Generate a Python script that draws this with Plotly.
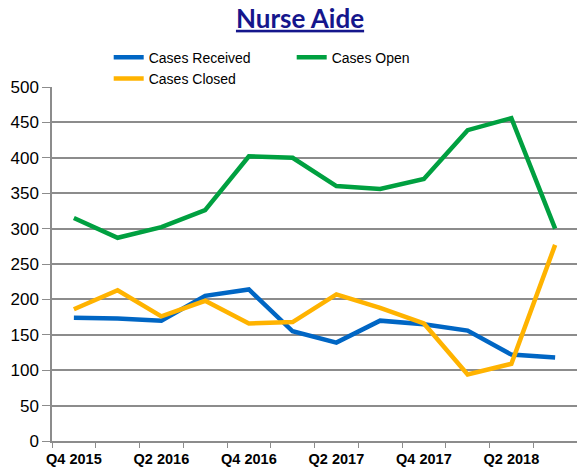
import plotly.graph_objects as go

quarters = ["Q4 2015", "Q1 2016", "Q2 2016", "Q3 2016", "Q4 2016", "Q1 2017",
            "Q2 2017", "Q3 2017", "Q4 2017", "Q1 2018", "Q2 2018", "Q3 2018"]
tick_labels = ["Q4 2015", "", "Q2 2016", "", "Q4 2016", "", "Q2 2017", "",
               "Q4 2017", "", "Q2 2018", ""]
cases_received = [174, 173, 170, 205, 214, 155, 139, 170, 165, 156, 122, 118]
cases_open = [315, 287, 302, 326, 402, 400, 360, 356, 370, 439, 456, 300]
cases_closed = [186, 213, 176, 198, 166, 168, 207, 188, 166, 94, 109, 277]

fig = go.Figure()
fig.add_trace(go.Scatter(x=quarters, y=cases_received, mode="lines", name="Cases Received",
                         line=dict(color="#0066C4", width=4.5)))
fig.add_trace(go.Scatter(x=quarters, y=cases_open, mode="lines", name="Cases Open",
                         line=dict(color="#00A040", width=4.5)))
fig.add_trace(go.Scatter(x=quarters, y=cases_closed, mode="lines", name="Cases Closed",
                         line=dict(color="#FFB300", width=4.5)))

grid = "#8C8C8C"
fig.update_layout(
    width=577, height=467,
    margin=dict(l=52, r=0, t=87, b=26),
    paper_bgcolor="white", plot_bgcolor="white",
    font=dict(family="Liberation Sans, Arial, sans-serif", color="black"),
    title=dict(text="<u><b>Nurse Aide</b></u>", x=0.52, xanchor="center",
               y=0.96, yanchor="middle",
               font=dict(family="Lato, sans-serif", size=26, color="#15168C")),
    legend=dict(orientation="h", x=0.108, xanchor="left", y=1.128, yanchor="top",
                entrywidth=138, entrywidthmode="pixels",
                font=dict(size=14, color="black"), bgcolor="rgba(0,0,0,0)",
                itemwidth=30, tracegroupgap=0),
    showlegend=True,
)
fig.update_xaxes(type="category", categoryorder="array", categoryarray=quarters,
                 tickmode="array", tickvals=quarters, ticktext=tick_labels,
                 tickson="boundaries", ticks="outside", ticklen=5, tickcolor=grid,
                 showline=True, linecolor=grid, linewidth=1.5, showgrid=False,
                 tickangle=0, automargin=False, ticklabelstandoff=4,
                 tickfont=dict(size=14.5, family="Liberation Sans, Arial, sans-serif",
                               weight="bold"),
                 range=[-0.5, 11.5], fixedrange=True)
fig.update_yaxes(range=[0, 500], dtick=50, tick0=0, showgrid=True, gridcolor=grid,
                 gridwidth=1.5, showline=True, linecolor=grid, linewidth=1.5,
                 ticks="outside", ticklen=8, tickcolor=grid, zeroline=False,
                 automargin=False, tickfont=dict(size=17), fixedrange=True)

fig.write_html("out.html", config={"displayModeBar": False},
               post_script="document.body.style.margin='0';document.body.style.overflow='hidden';")
